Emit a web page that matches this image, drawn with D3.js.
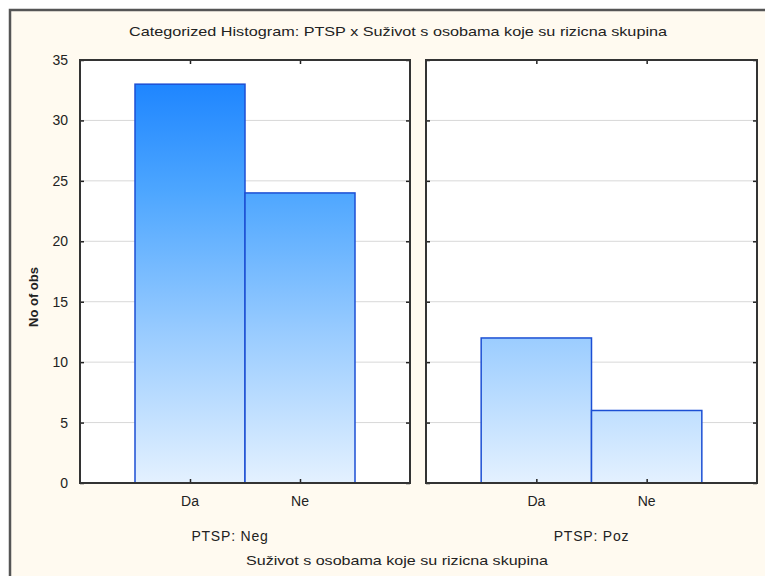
<!DOCTYPE html>
<html>
<head>
<meta charset="utf-8">
<script src="https://cdn.jsdelivr.net/npm/d3@7"></script>
<style>
  body { margin: 0; background: #fff; }
  svg { display: block; font-family: "Liberation Sans", Arial, sans-serif; }
</style>
</head>
<body>
<svg id="chart" width="765" height="576"></svg>
<script>
// data
const panels = ["PTSP: Neg", "PTSP: Poz"];
const categories = ["Da", "Ne"];
const counts = [[33, 24], [12, 6]];
const yTicks = [0, 5, 10, 15, 20, 25, 30, 35];

const svg = d3.select("#chart");

// cream background + frame
svg.append("rect").attr("x", 0).attr("y", 0).attr("width", 765).attr("height", 576).attr("fill", "#fff");
svg.append("rect")
    .attr("x", 10).attr("y", 10).attr("width", 770).attr("height", 580)
    .attr("fill", "#fffaf0").attr("stroke", "#555").attr("stroke-width", 2.5);

const plotTop = 60, plotBottom = 483;
const panelX = [[80, 410], [426, 757]];

const y = d3.scaleLinear().domain([0, 35]).range([plotBottom, plotTop]);

// gradient tied to the y scale
const grad = svg.append("defs").append("linearGradient")
    .attr("id", "barGrad")
    .attr("gradientUnits", "userSpaceOnUse")
    .attr("x1", 0).attr("x2", 0)
    .attr("y1", y(35)).attr("y2", y(0));
[[0, "#0c78ff"], [0.06, "#1f86ff"], [0.31, "#4da6ff"], [0.66, "#9ccdff"], [1, "#e4f1ff"]]
    .forEach(s => grad.append("stop").attr("offset", s[0]).attr("stop-color", s[1]));

panels.forEach((name, p) => {
    const [x0, x1] = panelX[p];
    const x = d3.scaleLinear().domain([0, 3]).range([x0, x1]);
    const g = svg.append("g");

    g.append("rect")
        .attr("x", x0).attr("y", plotTop).attr("width", x1 - x0).attr("height", plotBottom - plotTop)
        .attr("fill", "#fff");

    // grid
    g.selectAll(".grid").data(yTicks.slice(1, -1)).join("line")
        .attr("x1", x0).attr("x2", x1)
        .attr("y1", d => y(d)).attr("y2", d => y(d))
        .attr("stroke", "#d8d8d8").attr("stroke-width", 1);

    // bars
    g.selectAll(".bar").data(counts[p]).join("rect")
        .attr("x", (d, i) => x(i + 0.5))
        .attr("width", x(1) - x(0))
        .attr("y", d => y(d))
        .attr("height", d => y(0) - y(d))
        .attr("fill", "url(#barGrad)")
        .attr("stroke", "#1c4fd4").attr("stroke-width", 1.5);

    // axes with inward ticks
    g.append("g").attr("transform", `translate(0,${plotBottom})`)
        .call(d3.axisBottom(x).tickValues([1, 2]).tickSize(-4).tickFormat(""))
        .call(a => a.select(".domain").remove());
    g.append("g").attr("transform", `translate(0,${plotTop})`)
        .call(d3.axisTop(x).tickValues([1, 2]).tickSize(-4).tickFormat(""))
        .call(a => a.select(".domain").remove());
    g.append("g").attr("transform", `translate(${x0},0)`)
        .call(d3.axisLeft(y).tickValues(yTicks).tickSize(-4).tickFormat(""))
        .call(a => a.select(".domain").remove());
    g.append("g").attr("transform", `translate(${x1},0)`)
        .call(d3.axisRight(y).tickValues(yTicks).tickSize(-4).tickFormat(""))
        .call(a => a.select(".domain").remove());
    g.selectAll(".tick line").attr("stroke", "#222").attr("stroke-width", 1.5);

    g.append("rect")
        .attr("x", x0).attr("y", plotTop).attr("width", x1 - x0).attr("height", plotBottom - plotTop)
        .attr("fill", "none").attr("stroke", "#333").attr("stroke-width", 2);

    // category labels
    g.selectAll(".cat").data(categories).join("text")
        .attr("x", (d, i) => x(i + 1))
        .attr("y", 506)
        .attr("text-anchor", "middle")
        .attr("font-size", 14)
        .attr("fill", "#222")
        .text(d => d);

    g.append("text")
        .attr("x", p === 0 ? 230 : (x0 + x1) / 2)
        .attr("y", 541)
        .attr("text-anchor", "middle")
        .attr("font-size", 14)
        .attr("letter-spacing", 0.8)
        .attr("fill", "#222")
        .text(name);
});

// y tick labels
svg.selectAll(".ylab").data(yTicks).join("text")
    .attr("x", 68)
    .attr("y", d => y(d) + 5)
    .attr("text-anchor", "end")
    .attr("font-size", 14)
    .attr("fill", "#222")
    .text(d => d);

svg.append("text")
    .attr("transform", "translate(38,297) rotate(-90)")
    .attr("text-anchor", "middle")
    .attr("font-size", 13)
    .attr("font-weight", "bold")
    .attr("fill", "#222")
    .text("No of obs");

svg.append("text")
    .attr("x", 398).attr("y", 36)
    .attr("text-anchor", "middle")
    .attr("font-size", 13)
    .attr("textLength", 538).attr("lengthAdjust", "spacingAndGlyphs")
    .attr("fill", "#222")
    .text("Categorized Histogram: PTSP x Suživot s osobama koje su rizicna skupina");

svg.append("text")
    .attr("x", 397).attr("y", 565)
    .attr("text-anchor", "middle")
    .attr("font-size", 13)
    .attr("textLength", 302).attr("lengthAdjust", "spacingAndGlyphs")
    .attr("fill", "#222")
    .text("Suživot s osobama koje su rizicna skupina");
</script>
</body>
</html>
